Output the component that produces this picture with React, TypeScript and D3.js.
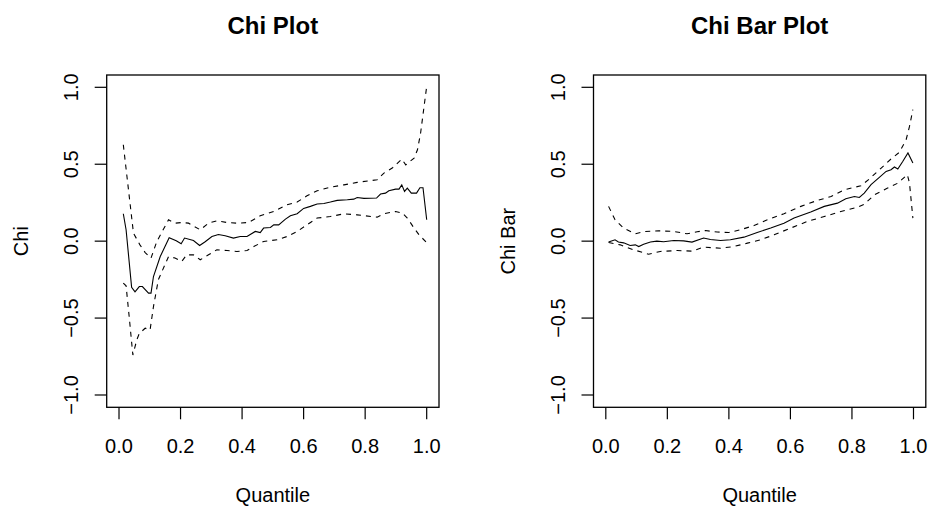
import React from "react";
import * as d3 from "d3";

// ---------- Data ----------
const xTicks = [0, 0.2, 0.4, 0.6, 0.8, 1.0];
const yTicks = [-1, -0.5, 0, 0.5, 1];
const xTickLabels = ["0.0", "0.2", "0.4", "0.6", "0.8", "1.0"];
const yTickLabels = ["\u22121.0", "\u22120.5", "0.0", "0.5", "1.0"];

// Chi plot – estimate
const chiQ = [0.014,0.023,0.041,0.052,0.066,0.076,0.096,0.104,0.112,0.134,0.163,0.186,0.202,0.213,0.242,0.262,0.28,0.302,0.323,0.345,0.372,0.394,0.416,0.443,0.459,0.47,0.492,0.503,0.519,0.541,0.557,0.579,0.6,0.622,0.644,0.666,0.687,0.709,0.742,0.763,0.774,0.796,0.837,0.85,0.866,0.877,0.899,0.91,0.919,0.928,0.937,0.95,0.967,0.978,0.988,1.0];
const chiVal = [0.178,0.074,-0.30,-0.33,-0.295,-0.295,-0.338,-0.338,-0.23,-0.10,0.022,0.002,-0.017,0.02,0.004,-0.028,-0.004,0.03,0.043,0.035,0.02,0.03,0.03,0.063,0.056,0.085,0.089,0.106,0.106,0.143,0.165,0.178,0.213,0.226,0.241,0.245,0.254,0.265,0.269,0.273,0.284,0.278,0.28,0.306,0.312,0.328,0.338,0.338,0.366,0.323,0.345,0.312,0.312,0.347,0.347,0.139];
// Chi plot – upper band
const chiUpQ = [0.014,0.027,0.047,0.068,0.085,0.104,0.123,0.161,0.182,0.204,0.226,0.264,0.291,0.318,0.351,0.383,0.421,0.459,0.503,0.546,0.579,0.611,0.644,0.687,0.731,0.774,0.839,0.861,0.888,0.919,0.932,0.959,0.97,0.98,1.0];
const chiUp = [0.627,0.40,0.052,-0.024,-0.074,-0.11,-0.002,0.139,0.117,0.121,0.117,0.074,0.117,0.132,0.121,0.117,0.121,0.165,0.193,0.236,0.254,0.295,0.327,0.351,0.366,0.382,0.399,0.442,0.475,0.533,0.496,0.54,0.594,0.70,1.006];
// Chi plot – lower band
const chiLoQ = [0.014,0.023,0.034,0.045,0.058,0.066,0.085,0.101,0.112,0.128,0.161,0.182,0.204,0.22,0.242,0.264,0.291,0.318,0.351,0.383,0.416,0.438,0.47,0.514,0.546,0.579,0.611,0.644,0.687,0.731,0.774,0.839,0.861,0.899,0.921,0.937,0.959,0.975,1.0];
const chiLo = [-0.273,-0.29,-0.51,-0.74,-0.64,-0.6,-0.566,-0.577,-0.425,-0.25,-0.10,-0.11,-0.132,-0.089,-0.089,-0.121,-0.089,-0.056,-0.061,-0.067,-0.061,-0.035,-0.002,0.009,0.03,0.063,0.106,0.15,0.16,0.178,0.171,0.156,0.178,0.193,0.182,0.15,0.085,0.041,-0.009];

// Chi bar plot – estimate
const barQ = [0.009,0.03,0.041,0.058,0.079,0.096,0.107,0.123,0.145,0.166,0.188,0.221,0.253,0.28,0.318,0.34,0.373,0.405,0.449,0.492,0.536,0.579,0.612,0.666,0.71,0.753,0.78,0.808,0.824,0.84,0.862,0.889,0.911,0.927,0.938,0.949,0.965,0.982,0.998];
const barVal = [-0.006,0.009,-0.006,-0.011,-0.028,-0.024,-0.035,-0.02,-0.006,0,-0.004,0.004,0.002,-0.006,0.02,0.011,0.004,0.009,0.026,0.056,0.085,0.117,0.15,0.189,0.226,0.247,0.275,0.29,0.284,0.312,0.367,0.414,0.453,0.464,0.482,0.469,0.518,0.573,0.508];
// Chi bar plot – upper band
const barUpQ = [0.009,0.03,0.058,0.096,0.128,0.172,0.221,0.264,0.297,0.324,0.362,0.4,0.438,0.482,0.525,0.579,0.634,0.688,0.732,0.775,0.829,0.857,0.895,0.927,0.954,0.976,0.987,0.998];
const barUp = [0.226,0.139,0.085,0.048,0.063,0.067,0.063,0.048,0.061,0.069,0.059,0.056,0.074,0.102,0.139,0.178,0.226,0.265,0.29,0.334,0.36,0.405,0.475,0.534,0.577,0.659,0.746,0.855];
// Chi bar plot – lower band
const barLoQ = [0.009,0.047,0.09,0.139,0.177,0.232,0.28,0.318,0.373,0.416,0.46,0.503,0.547,0.601,0.655,0.71,0.764,0.818,0.84,0.873,0.916,0.949,0.98,0.987,0.998];
const barLo = [-0.009,-0.024,-0.056,-0.085,-0.067,-0.061,-0.065,-0.039,-0.046,-0.035,-0.013,0.009,0.041,0.085,0.128,0.16,0.193,0.221,0.24,0.301,0.345,0.377,0.432,0.377,0.15];

// ---------- Layout ----------
const W = 932;
const H = 508;
const FONT = "'Liberation Sans', Arial, Helvetica, sans-serif";

type Series = { q: number[]; v: number[]; dashed: boolean };

function Panel({
  left,
  title,
  ylab,
  series,
}: {
  left: number;
  title: string;
  ylab: string;
  series: Series[];
}) {
  const top = 75;
  const bottom = 407.3;
  const x = d3.scaleLinear().domain([-0.04, 1.04]).range([left, left + 332.3]);
  const y = d3.scaleLinear().domain([-1.08, 1.08]).range([bottom, top]);
  const line = (q: number[], v: number[]) =>
    d3
      .line<number>()
      .x((_, i) => x(q[i]))
      .y((d) => y(d))(v) as string;
  const x0 = x(-0.04);
  const x1 = x(1.04);
  const cx = (x0 + x1) / 2;
  const cy = (top + bottom) / 2;
  return (
    <g>
      <text
        x={cx}
        y={34}
        textAnchor="middle"
        fontFamily={FONT}
        fontWeight="bold"
        fontSize={24}
        fill="#000"
      >
        {title}
      </text>
      <rect
        x={x0}
        y={top}
        width={x1 - x0}
        height={bottom - top}
        fill="none"
        stroke="#000"
        strokeWidth={1.3}
      />
      {series.map((s, i) => (
        <path
          key={i}
          d={line(s.q, s.v)}
          fill="none"
          stroke="#000"
          strokeWidth={1.1}
          strokeDasharray={s.dashed ? "5,5" : undefined}
        />
      ))}
      {/* x axis */}
      <line
        x1={x(xTicks[0])}
        x2={x(xTicks[xTicks.length - 1])}
        y1={bottom + 2}
        y2={bottom + 2}
        stroke="none"
      />
      {xTicks.map((t, i) => (
        <g key={"xt" + i}>
          <line x1={x(t)} x2={x(t)} y1={bottom} y2={bottom + 12} stroke="#000" strokeWidth={1.2} />
          <text
            x={x(t)}
            y={453}
            textAnchor="middle"
            fontFamily={FONT}
            fontSize={20}
            fill="#000"
          >
            {xTickLabels[i]}
          </text>
        </g>
      ))}
      {yTicks.map((t, i) => (
        <g key={"yt" + i}>
          <line x1={x0 - 12} x2={x0} y1={y(t)} y2={y(t)} stroke="#000" strokeWidth={1.2} />
          <text
            transform={`translate(${x0 - 28.4},${y(t)}) rotate(-90)`}
            textAnchor="middle"
            fontFamily={FONT}
            fontSize={20}
            fill="#000"
          >
            {yTickLabels[i]}
          </text>
        </g>
      ))}
      <text
        x={cx}
        y={502}
        textAnchor="middle"
        fontFamily={FONT}
        fontSize={20}
        fill="#000"
      >
        Quantile
      </text>
      <text
        transform={`translate(${x0 - 79},${cy}) rotate(-90)`}
        textAnchor="middle"
        fontFamily={FONT}
        fontSize={20}
        fill="#000"
      >
        {ylab}
      </text>
    </g>
  );
}

export default function App() {
  return (
    <svg
      width={W}
      height={H}
      viewBox={`0 0 ${W} ${H}`}
      style={{ position: "absolute", left: 0, top: 0, background: "#fff" }}
    >
      <rect width={W} height={H} fill="#fff" />
      <Panel
        left={106.7}
        title="Chi Plot"
        ylab="Chi"
        series={[
          { q: chiQ, v: chiVal, dashed: false },
          { q: chiUpQ, v: chiUp, dashed: true },
          { q: chiLoQ, v: chiLo, dashed: true },
        ]}
      />
      <Panel
        left={593.5}
        title="Chi Bar Plot"
        ylab="Chi Bar"
        series={[
          { q: barQ, v: barVal, dashed: false },
          { q: barUpQ, v: barUp, dashed: true },
          { q: barLoQ, v: barLo, dashed: true },
        ]}
      />
    </svg>
  );
}
